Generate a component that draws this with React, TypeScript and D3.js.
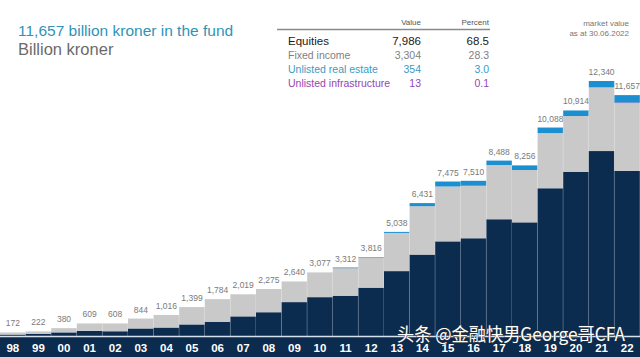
import React from "react";
import * as d3 from "d3";

const years = ["98","99","00","01","02","03","04","05","06","07","08","09","10","11","12","13","14","15","16","17","18","19","20","21","22"];
const totalLabels = ["172","222","380","609","608","844","1,016","1,399","1,784","2,019","2,275","2,640","3,077","3,312","3,816","5,038","6,431","7,475","7,510","8,488","8,256","10,088","10,914","12,340","11,657"];
const equities = [70,110,175,250,230,365,410,560,690,950,1150,1640,1880,1950,2340,3140,3940,4580,4730,5650,5500,7150,7950,8950,7986];
const fixedIncome = [102,112,205,359,378,479,606,839,1094,1069,1125,1000,1197,1351,1449,1848,2341,2655,2540,2623,2531,2668,2694,3080,3304];
const realEstate = [0,0,0,0,0,0,0,0,0,0,0,0,0,11,27,50,150,240,240,215,225,270,270,310,354];
const infrastructure = [0,0,0,0,0,0,0,0,0,0,0,0,0,0,0,0,0,0,0,0,0,0,0,0,13];

const tableRows = ["Equities","Fixed income","Unlisted real estate","Unlisted infrastructure"];
const tableValues = ["7,986","3,304","354","13"];
const tablePercents = ["68.5","28.3","3.0","0.1"];

const W = 640, H = 357;
const NAVY = "#0b2b4f";
const GRAY = "#c9c9c9";
const BLUE = "#1b8fd0";
const PURPLE = "#9b4fb8";
const FONT = "'Liberation Sans', Arial, sans-serif";

export default function App() {
  const x = d3.scaleBand<string>().domain(years).range([0, W]).padding(0);
  const y = d3.scaleLinear().domain([0, 12340]).range([336, 81]);
  const base = y(0);
  const series = [
    { vals: equities, color: NAVY },
    { vals: fixedIncome, color: GRAY },
    { vals: infrastructure, color: PURPLE },
    { vals: realEstate, color: BLUE },
  ];
  const rowColors = ["#1a1a1a", "#7f7f7f", "#3a9cc2", "#9446b3"];
  const rowY = [45, 58.5, 72.5, 86.5];

  return (
    <svg width={W} height={H} style={{ position: "absolute", left: 0, top: 0, background: "#fff" }} fontFamily={FONT}>
      {/* title */}
      <text x={18} y={36} fontSize={15.5} fill="#2f93b8">11,657 billion kroner in the fund</text>
      <text x={18} y={55} fontSize={16.5} fill="#6b6b6b">Billion kroner</text>

      {/* table */}
      <text x={421} y={25} fontSize={8} fill="#555" textAnchor="end">Value</text>
      <text x={489} y={25} fontSize={8} fill="#555" textAnchor="end">Percent</text>
      <line x1={277} x2={490} y1={29.5} y2={29.5} stroke="#8a8a8a" strokeWidth={1.6} />
      {tableRows.map((r, i) => (
        <g key={r}>
          <text x={288} y={rowY[i]} fontSize={i === 0 ? 11.5 : 10.5} fill={rowColors[i]}>{r}</text>
          <text x={421} y={rowY[i]} fontSize={i === 0 ? 11.5 : 10.5} fill={rowColors[i]} textAnchor="end">{tableValues[i]}</text>
          <text x={489} y={rowY[i]} fontSize={i === 0 ? 11.5 : 10.5} fill={rowColors[i]} textAnchor="end">{tablePercents[i]}</text>
        </g>
      ))}
      <text x={629} y={26} fontSize={8} fill="#777" textAnchor="end">market value</text>
      <text x={629} y={36} fontSize={8} fill="#777" textAnchor="end">as at 30.06.2022</text>

      {/* bars */}
      {years.map((yr, i) => {
        let acc = 0;
        const bx = x(yr)!;
        const bw = x.bandwidth();
        const rects = series.map((s, j) => {
          const v = s.vals[i];
          const y0 = y(acc);
          acc += v;
          const y1 = y(acc);
          if (v <= 0) return null;
          return <rect key={j} x={bx} y={y1} width={bw} height={Math.max(y0 - y1, 0.6)} fill={s.color} />;
        });
        const top = y(acc);
        return (
          <g key={yr}>
            {rects}
            <line x1={bx + bw} x2={bx + bw} y1={top} y2={base} stroke="#ffffff" strokeOpacity={0.35} strokeWidth={1} />
            <text x={bx + bw / 2} y={top - 6} fontSize={8.5} fill="#7a7a7a" textAnchor="middle">{totalLabels[i]}</text>
          </g>
        );
      })}

      {/* axis band */}
      <rect x={0} y={337} width={W} height={20} fill={NAVY} />
      <line x1={0} x2={W} y1={336.5} y2={336.5} stroke="#d6e2ee" strokeWidth={1.5} />
      {years.map((yr) => (
        <text key={yr} x={x(yr)! + x.bandwidth() / 2} y={352} fontSize={11.5} fontWeight="bold" fill="#ffffff" textAnchor="middle">{yr}</text>
      ))}

      {/* watermark */}
      <text x={397} y={341} fontSize={18} textLength={228} lengthAdjust="spacingAndGlyphs" fontFamily="'Noto Sans CJK SC', sans-serif" fill="#ffffff" stroke="#333" strokeWidth={0.8} paintOrder="stroke">头条 @金融快男George哥CFA</text>
    </svg>
  );
}
